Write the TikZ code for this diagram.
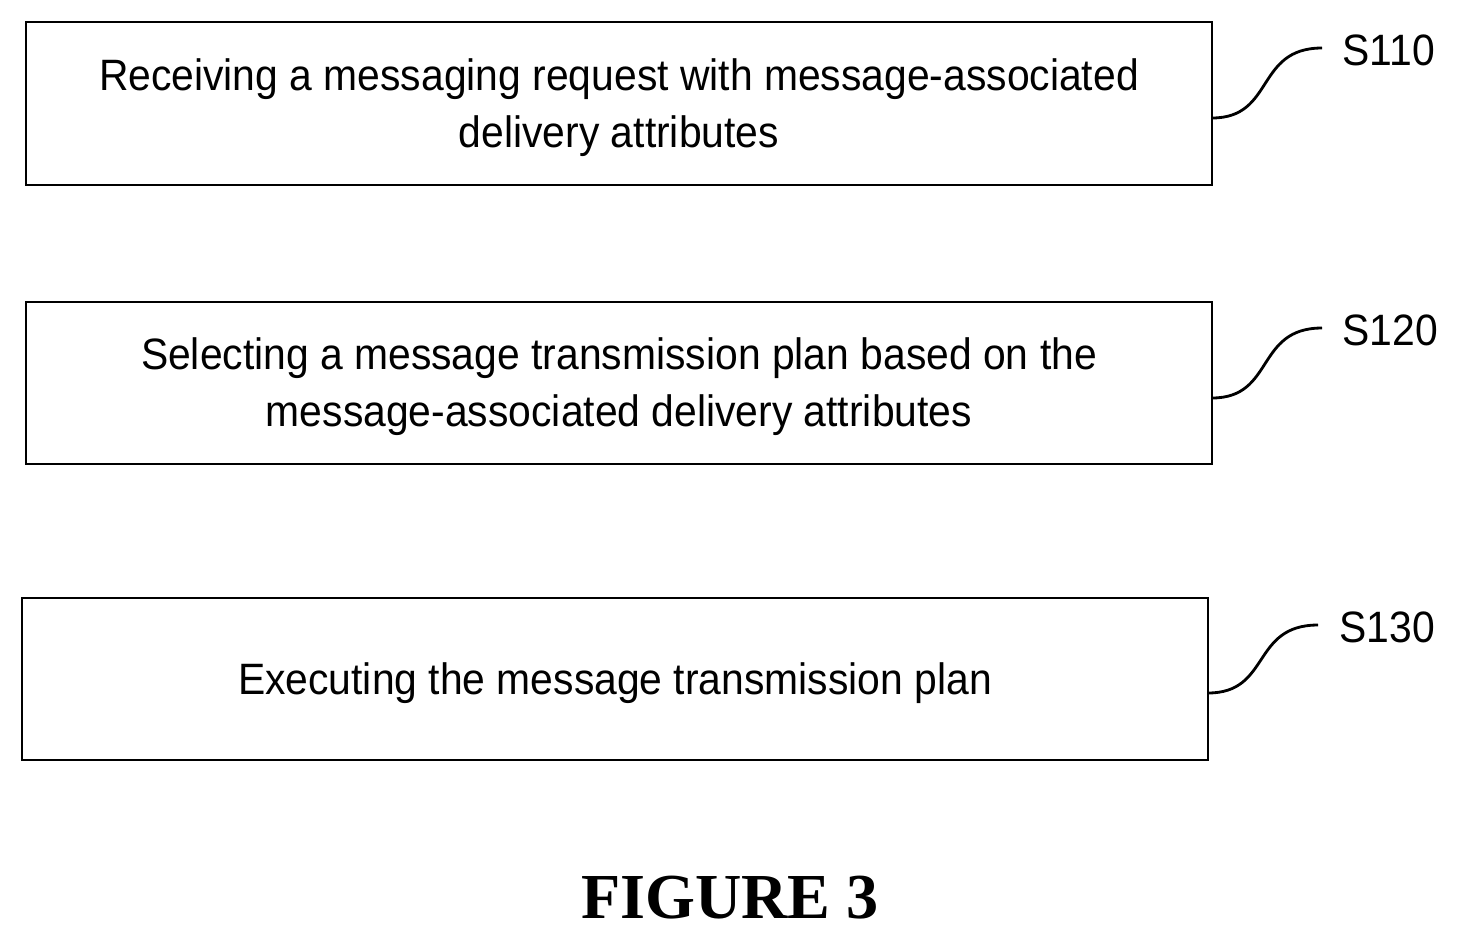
\documentclass[tikz,border=0pt]{standalone}
\usepackage{fontspec}
\setmainfont[FakeStretch=0.93]{Liberation Sans}
\newfontfamily\figfont{Liberation Serif}
\usetikzlibrary{positioning}

\begin{document}
\begin{tikzpicture}[x=0.02cm, y=-0.02cm, semithick]
        \tikzstyle{stepbox}=[draw=black, line width=1.6pt, minimum width=23.72cm, minimum height=3.24cm, align=center, font=\fontsize{25}{32.5}\selectfont, inner sep=0pt]
        \tikzstyle{tag}=[font=\fontsize{25}{30}\selectfont, anchor=west, inner sep=0pt]
        \tikzstyle{lead}=[line width=1.6pt]

        \useasboundingbox (0,0) rectangle (1457,947);

        \draw[line width=1.6pt] (26,22) rectangle (1212,185);
        \node[stepbox, draw=none] (S1) at (619,108) {Receiving a messaging request with message-associated\\delivery attributes};
        \draw[line width=1.6pt] (26,302) rectangle (1212,464);
        \node[stepbox, draw=none] (S2) at (619,387) {Selecting a message transmission plan based on the\\message-associated delivery attributes};
        \draw[line width=1.6pt] (22,598) rectangle (1208,760);
        \node[stepbox, draw=none] (S3) at (615,683) {Executing the message transmission plan};

        \node[tag] (L1) at (1342,50) {S110};
        \node[tag] (L2) at (1342,330) {S120};
        \node[tag] (L3) at (1339,627) {S130};

        % leaders from the boxes to the step tags
        \draw[lead] (1212,118) .. controls (1275,118) and (1255,48) .. (1322,48);
        \draw[lead] (1212,398) .. controls (1275,398) and (1255,328) .. (1322,328);
        \draw[lead] (1208,693) .. controls (1271,693) and (1251,625) .. (1318,625);

        \node[font=\figfont\bfseries\fontsize{36.5}{40}\selectfont] (F) at (730,898) {FIGURE 3};
\end{tikzpicture}
\end{document}
